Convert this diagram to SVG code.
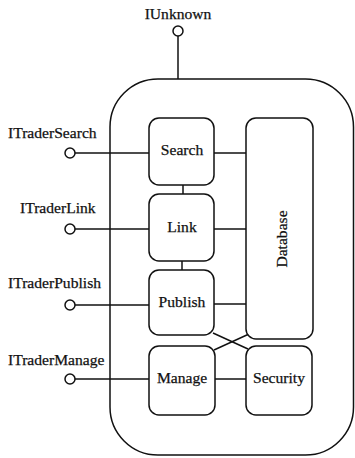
<svg xmlns="http://www.w3.org/2000/svg" width="355" height="458" viewBox="0 0 355 458">
<style>
.s{fill:none;stroke:#111;stroke-width:1.5}
.b{fill:#fff;stroke:#111;stroke-width:1.5}
text{font-family:"Liberation Serif","Times New Roman","DejaVu Serif",serif;font-size:15.6px;fill:#111;stroke:#111;stroke-width:0.25}
.m{text-anchor:middle}
</style>
<rect width="355" height="458" fill="#fff"/>
<g id="component">
<rect class="s" x="110" y="79" width="243.5" height="376" rx="48" ry="48"/>
</g>
<g id="connectors">
<line class="s" x1="178" y1="36" x2="178" y2="79"/>
<line class="s" x1="75" y1="153" x2="149" y2="153"/>
<line class="s" x1="75" y1="229" x2="149" y2="229"/>
<line class="s" x1="75" y1="305" x2="149" y2="305"/>
<line class="s" x1="75" y1="379" x2="149" y2="379"/>
<line class="s" x1="183" y1="185" x2="183" y2="194"/>
<line class="s" x1="182" y1="261" x2="182" y2="270"/>
<line class="s" x1="214" y1="153" x2="246" y2="153"/>
<line class="s" x1="214" y1="229" x2="246" y2="229"/>
<line class="s" x1="214" y1="304" x2="246" y2="304"/>
<line class="s" x1="215" y1="379" x2="246" y2="379"/>
<line class="s" x1="213" y1="333" x2="248" y2="349"/>
<line class="s" x1="214" y1="350" x2="249" y2="334"/>
</g>
<g id="IUnknown">
<circle class="b" cx="178" cy="31" r="5"/>
<text class="m" x="178" y="19" font-family="Liberation Serif">IUnknown</text>
</g>
<g id="ITraderSearch">
<circle class="b" cx="70" cy="153" r="5"/>
<text x="8" y="138">ITraderSearch</text>
</g>
<g id="ITraderLink">
<circle class="b" cx="70" cy="229" r="5"/>
<text x="20" y="213">ITraderLink</text>
</g>
<g id="ITraderPublish">
<circle class="b" cx="70" cy="305" r="5"/>
<text x="8" y="288">ITraderPublish</text>
</g>
<g id="ITraderManage">
<circle class="b" cx="70" cy="379" r="5"/>
<text x="8" y="365">ITraderManage</text>
</g>
<g id="Search">
<rect class="b" x="149" y="118" width="65" height="67" rx="10"/>
<text class="m" x="182" y="155">Search</text>
</g>
<g id="Link">
<rect class="b" x="149" y="194" width="65" height="67" rx="10"/>
<text class="m" x="182" y="232">Link</text>
</g>
<g id="Publish">
<rect class="b" x="149" y="270" width="65" height="65" rx="10"/>
<text class="m" x="182" y="307">Publish</text>
</g>
<g id="Manage">
<rect class="b" x="149" y="346" width="66" height="69" rx="10"/>
<text class="m" x="182" y="383">Manage</text>
</g>
<g id="Database">
<rect class="b" x="246" y="118" width="67" height="221" rx="10"/>
<text class="m" x="287" y="239" transform="rotate(-90 287 239)">Database</text>
</g>
<g id="Security">
<rect class="b" x="246" y="346" width="66" height="69" rx="10"/>
<text class="m" x="279" y="383">Security</text>
</g>
</svg>
